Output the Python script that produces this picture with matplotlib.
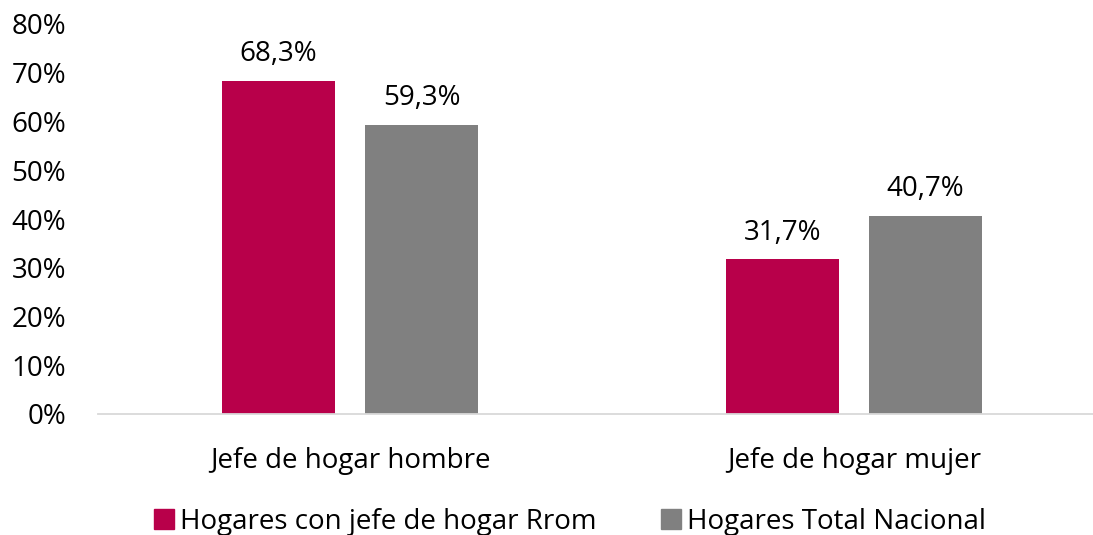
import numpy as np
import matplotlib.pyplot as plt
from matplotlib.patches import Patch

categorias = ["Jefe de hogar hombre", "Jefe de hogar mujer"]
rrom = [68.3, 31.7]
nacional = [59.3, 40.7]
series = ["Hogares con jefe de hogar Rrom", "Hogares Total Nacional"]
colores = ["#B8004A", "#808080"]

plt.rcParams['font.family'] = ['Open Sans', 'DejaVu Sans']

fig = plt.figure(figsize=(10.93, 5.35), dpi=100)
ax = fig.add_axes([98 / 1093, 121 / 535, 1008 / 1093, 390 / 535])

x = np.arange(len(categorias))
w = 0.224
off = 0.142
b1 = ax.bar(x - off, rrom, w, color=colores[0])
b2 = ax.bar(x + off, nacional, w, color=colores[1])

for bars, vals in ((b1, rrom), (b2, nacional)):
    for b, v in zip(bars, vals):
        ax.text(b.get_x() + b.get_width() / 2, v + 2.6, f"{v:.1f}%".replace(".", ","),
                ha='center', va='bottom', fontsize=20, color='#000000')

ax.set_xlim(-0.5, 1.5)
ax.set_ylim(0, 80)
ax.set_yticks(range(0, 81, 10))
ax.set_yticklabels([f"{t}%" for t in range(0, 81, 10)])
ax.set_xticks(x)
ax.set_xticklabels(categorias)
ax.tick_params(axis='both', length=0, labelsize=20)
ax.tick_params(axis='x', pad=24)
ax.tick_params(axis='y', pad=23)
for s in ['top', 'right', 'left']:
    ax.spines[s].set_visible(False)
ax.spines['bottom'].set_color('#D9D9D9')
ax.spines['bottom'].set_linewidth(1.3)

handles = [Patch(color=c, label=l) for c, l in zip(colores, series)]
fig.legend(handles=handles, loc='center', bbox_to_anchor=(570 / 1093, 13 / 535),
           ncol=2, frameon=False, fontsize=20, handlelength=0.72, handleheight=0.72,
           handletextpad=0.22, columnspacing=2.3)

fig.savefig("out.png", dpi=100)
